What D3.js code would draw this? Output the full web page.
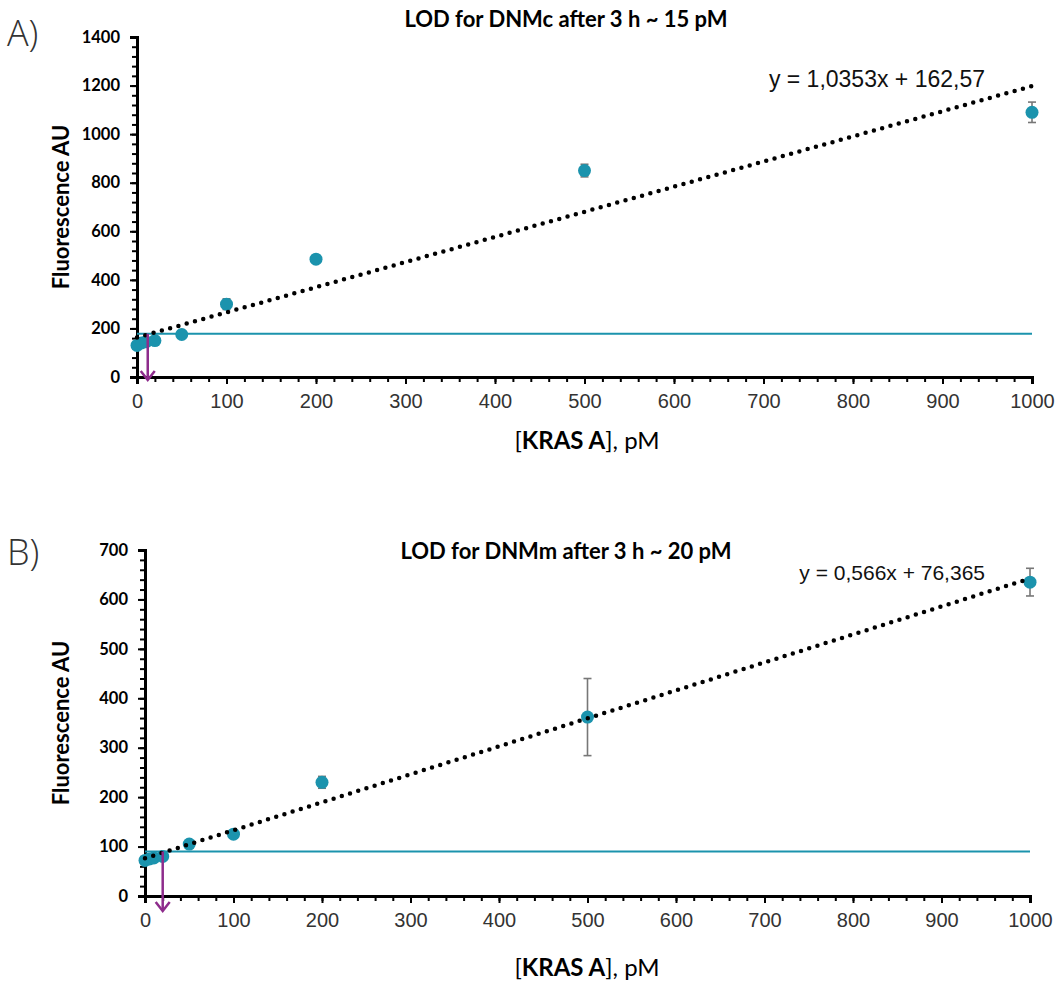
<!DOCTYPE html>
<html>
<head>
<meta charset="utf-8">
<script src="https://cdn.jsdelivr.net/npm/d3@7/dist/d3.min.js"></script>
<style>
  body { margin: 0; background: #fff; }
  svg { display: block; }
</style>
</head>
<body>
<div id="elements"></div>
<script>
// concentrations of KRAS A (pM)
var concA = [0, 5, 10, 20, 50, 100, 200, 500, 1000];
var fluoA = [130, 140, 145, 150, 175, 300, 485, 850, 1090];
var errA  = [10, 10, 8, 10, 10, 22, 10, 26, 42];
var fitA  = [1.0353, 162.57];   // slope, intercept
var thresholdA = 178;
var lodA = 12;

var concB = [0, 5, 10, 20, 50, 100, 200, 500, 1000];
var fluoB = [72, 75, 77, 80, 105, 125, 230, 362, 635];
var errB  = [5, 5, 4, 5, 5, 5, 12, 78, 28];
var fitB  = [0.566, 76.365];
var thresholdB = 90;
var lodB = 20;

var xTicks = [0, 100, 200, 300, 400, 500, 600, 700, 800, 900, 1000];
var yTicksA = [0, 200, 400, 600, 800, 1000, 1200, 1400];
var yTicksB = [0, 100, 200, 300, 400, 500, 600, 700];

var teal = "#1b93ad";
var purple = "#8e2c8c";

var svg = d3.select("#elements").append("svg")
    .attr("width", 1060)
    .attr("height", 982);

var Panel = function(opt) {
    var x = d3.scaleLinear().domain([0, 1000]).range([opt.left, opt.right]);
    var y = d3.scaleLinear().domain([0, opt.ymax]).range([opt.bottom, opt.top]);
    var g = svg.append("g");

    // panel letter
    g.append("text")
        .attr("x", 7).attr("y", opt.letterY)
        .attr("font-family", "Open Sans, sans-serif")
        .attr("font-size", 36)
        .attr("font-weight", 300)
        .attr("fill", "#333")
        .text(opt.letter);

    // title
    g.append("text")
        .attr("x", 566).attr("y", opt.titleY)
        .attr("text-anchor", "middle")
        .attr("font-family", "Lato, sans-serif")
        .attr("font-weight", "bold")
        .attr("font-size", 22)
        .text(opt.title);

    // minor ticks
    var minorX = d3.range(0, 1001, 20);
    var minorY = d3.range(0, opt.ymax + 0.1, opt.ymax / 35);

    var xAxisMinor = g.append("g")
        .attr("transform", "translate(0," + opt.bottom + ")")
        .call(d3.axisBottom(x).tickValues(minorX).tickSize(5).tickFormat(""));
    var yAxisMinor = g.append("g")
        .attr("transform", "translate(" + opt.left + ",0)")
        .call(d3.axisLeft(y).tickValues(minorY).tickSize(5).tickFormat(""));

    var xAxis = g.append("g")
        .attr("transform", "translate(0," + opt.bottom + ")")
        .call(d3.axisBottom(x).tickValues(xTicks).tickSize(7).tickPadding(10).tickFormat(d3.format("d")));
    xAxis.selectAll("text")
        .attr("font-family", "Liberation Sans Narrow, Arial Narrow, sans-serif")
        .attr("font-stretch", "condensed")
        .attr("font-size", 20)
        .attr("fill", "#333");

    var yAxis = g.append("g")
        .attr("transform", "translate(" + opt.left + ",0)")
        .call(d3.axisLeft(y).tickValues(opt.yTicks).tickSize(7).tickPadding(10).tickFormat(d3.format("d")));
    yAxis.selectAll("text")
        .attr("font-family", "Lato, sans-serif")
        .attr("font-weight", "bold")
        .attr("font-size", 16.5)
        .attr("fill", "#000");

    [xAxisMinor, yAxisMinor, xAxis, yAxis].forEach(function(a) {
        a.selectAll("path").attr("stroke", "#000").attr("stroke-width", 3);
        a.selectAll("line").attr("stroke", "#000").attr("stroke-width", 2);
    });

    // y axis label
    g.append("text")
        .attr("transform", "translate(69," + ((opt.top + opt.bottom) / 2) + ") rotate(-90)")
        .attr("text-anchor", "middle")
        .attr("font-family", "Lato, sans-serif")
        .attr("font-weight", "bold")
        .attr("font-size", 22)
        .text("Fluorescence AU");

    // x axis label
    var xl = g.append("text")
        .attr("x", 587).attr("y", opt.xLabelY)
        .attr("text-anchor", "middle")
        .attr("font-family", "Lato, sans-serif")
        .attr("font-size", 24);
    xl.append("tspan").text("[");
    xl.append("tspan").attr("font-weight", "bold").text("KRAS A");
    xl.append("tspan").text("], pM");

    // threshold line
    g.append("line")
        .attr("x1", x(0)).attr("x2", x(1000))
        .attr("y1", y(opt.threshold)).attr("y2", y(opt.threshold))
        .attr("stroke", teal)
        .attr("stroke-width", 2.2);

    // error bars
    var eb = g.append("g").selectAll("g")
        .data(opt.conc.map(function(c, i) { return {c: c, v: opt.fluo[i], e: opt.err[i]}; }))
        .enter().append("g")
        .attr("stroke", "#777")
        .attr("stroke-width", 1.6);
    eb.append("line")
        .attr("x1", function(d) { return x(d.c); }).attr("x2", function(d) { return x(d.c); })
        .attr("y1", function(d) { return y(d.v - d.e); }).attr("y2", function(d) { return y(d.v + d.e); });
    eb.append("line")
        .attr("x1", function(d) { return x(d.c) - 4; }).attr("x2", function(d) { return x(d.c) + 4; })
        .attr("y1", function(d) { return y(d.v - d.e); }).attr("y2", function(d) { return y(d.v - d.e); });
    eb.append("line")
        .attr("x1", function(d) { return x(d.c) - 4; }).attr("x2", function(d) { return x(d.c) + 4; })
        .attr("y1", function(d) { return y(d.v + d.e); }).attr("y2", function(d) { return y(d.v + d.e); });

    // points
    g.append("g").selectAll("circle")
        .data(opt.conc.map(function(c, i) { return {c: c, v: opt.fluo[i]}; }))
        .enter().append("circle")
        .attr("cx", function(d) { return x(d.c); })
        .attr("cy", function(d) { return y(d.v); })
        .attr("r", 6.5)
        .attr("fill", teal);

    // linear fit, dotted
    g.append("line")
        .attr("x1", x(0)).attr("y1", y(opt.fit[1]))
        .attr("x2", x(1000)).attr("y2", y(opt.fit[0] * 1000 + opt.fit[1]))
        .attr("stroke", "#000")
        .attr("stroke-width", 4.5)
        .attr("stroke-linecap", "round")
        .attr("stroke-dasharray", "0,8.6");

    // equation
    g.append("text")
        .attr("x", opt.eqX).attr("y", opt.eqY)
        .attr("text-anchor", "end")
        .attr("font-family", "Liberation Sans, Arial, sans-serif")
        .attr("font-size", opt.eqSize)
        .attr("fill", "#111")
        .text("y = " + String(opt.fit[0]).replace(".", ",") + "x + " + String(opt.fit[1]).replace(".", ","));

    // LOD arrow
    var ax = x(opt.lod);
    var tip = opt.bottom + opt.arrowDrop;
    g.append("line")
        .attr("x1", ax).attr("x2", ax)
        .attr("y1", y(opt.threshold)).attr("y2", tip)
        .attr("stroke", purple).attr("stroke-width", 2.5);
    g.append("path")
        .attr("d", "M" + (ax - 7) + "," + (tip - 9) + "L" + ax + "," + tip + "L" + (ax + 7) + "," + (tip - 9))
        .attr("fill", "none")
        .attr("stroke", purple).attr("stroke-width", 2.5);
};

new Panel({
    letter: "A)", title: "LOD for DNMc after 3 h ~ 15 pM",
    left: 137, right: 1032, top: 37, bottom: 377, ymax: 1400,
    yTicks: yTicksA, titleY: 27, letterY: 46, xLabelY: 449,
    conc: concA, fluo: fluoA, err: errA, fit: fitA,
    threshold: thresholdA, lod: lodA, arrowDrop: 3,
    eqX: 985, eqY: 87, eqSize: 23
});

new Panel({
    letter: "B)", title: "LOD for DNMm after 3 h ~ 20 pM",
    left: 145, right: 1030, top: 550, bottom: 896, ymax: 700,
    yTicks: yTicksB, titleY: 559, letterY: 565, xLabelY: 976,
    conc: concB, fluo: fluoB, err: errB, fit: fitB,
    threshold: thresholdB, lod: lodB, arrowDrop: 15,
    eqX: 985, eqY: 580, eqSize: 21
});
</script>
</body>
</html>
